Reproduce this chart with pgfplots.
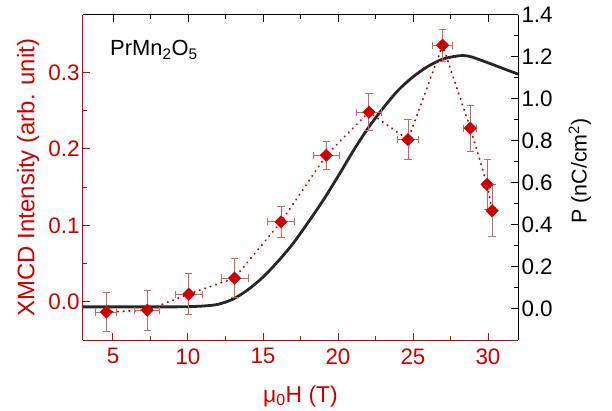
\documentclass[border=0pt]{standalone}
\usepackage{fontspec}
\setmainfont{Liberation Sans}
\usepackage{pgfplots}
\usepackage{pgfplotstable}
\pgfplotsset{compat=1.18}
\definecolor{mainred}{RGB}{204,0,0}
\definecolor{errred}{RGB}{214,96,96}
\pgfplotstableread{
x y ex ey
4.56 -0.0135 0.70 0.025
7.28 -0.011 0.83 0.026
10.05 0.010 0.89 0.027
13.1 0.031 0.90 0.025
16.2 0.1045 0.89 0.020
19.22 0.1915 0.87 0.018
22.06 0.248 0.81 0.024
24.67 0.212 0.71 0.026
26.97 0.3355 0.64 0.021
28.82 0.227 0.44 0.030
29.94 0.1535 0.25 0.033
30.27 0.119 0.20 0.034
}\xmcd
\pgfplotstableread{
x p
3 0.008
6 0.008
9 0.008
10 0.009
11 0.012
12 0.020
13 0.045
14 0.090
15 0.150
16 0.225
17 0.310
18 0.410
19 0.515
20 0.630
21 0.750
22 0.860
23 0.955
24 1.040
25 1.105
26 1.155
27 1.190
28 1.205
28.5 1.206
29 1.198
30 1.172
31 1.145
32 1.118
}\pol
\begin{document}
\begin{tikzpicture}
\pgfplotsset{
  common/.style={
    scale only axis, width=435bp, height=325bp,
    xmin=3, xmax=32,
    xtick={5,10,...,30}, minor x tick num=1,
    minor y tick num=1,
    tick align=inside,
    major tick length=7bp, minor tick length=4bp,
    /pgf/number format/assume math mode=true,
    tick label style={font=\fontsize{22.5}{27}\selectfont},
    yticklabel style={/pgf/number format/.cd, fixed, fixed zerofill, precision=1},
  }
}
% right axis (black), polarization
\begin{axis}[common,
  ymin=-0.15, ymax=1.4,
  axis x line=top, axis y line=right,
  axis line style={-, draw=black, line width=1bp},
  tick style={draw=black, line width=1bp},
  tick align=inside,
  xticklabels={},
  ytick={0,0.2,...,1.4},
  ylabel={P (nC/cm\textsuperscript{2})},
  ylabel style={at={(axis description cs:1.142,0.52)}, anchor=center, font=\fontsize{21.5}{26}\selectfont, color=black},
]
\addplot[black!85, line width=2.8bp, smooth, no marks] table[x=x, y=p] {\pol};
\end{axis}
% left axis (red), XMCD
\begin{axis}[common,
  ymin=-0.05, ymax=0.375,
  axis x line=bottom, axis y line=left,
  axis line style={-, draw=mainred, line width=1bp},
  tick style={draw=mainred, line width=1bp},
  tick align=inside,
  ytick={0,0.1,0.2,0.3},
  tick label style={color=mainred},
  xticklabel style={yshift=-5bp},
  xlabel={μ\textsubscript{0}H (T)},
  xlabel style={at={(axis description cs:0.5,-0.191)}, anchor=base, font=\fontsize{23}{27}\selectfont, color=mainred},
  ylabel={XMCD Intensity (arb. unit)},
  ylabel style={at={(axis description cs:-0.126,0.5)}, anchor=center, font=\fontsize{24}{28}\selectfont, color=mainred},
]
\addplot[mainred, line width=2bp, dash pattern=on 0.4bp off 5.3bp, line cap=round, no marks] table[x=x, y=y] {\xmcd};
\addplot[only marks, mark=square*, mark size=4.4bp,
  mark options={rotate=45, fill=mainred, draw=mainred},
  error bars/.cd, x dir=both, x explicit, y dir=both, y explicit,
  error bar style={errred, line width=1bp},
  error mark options={rotate=90, errred, mark size=3.6bp, line width=1bp}]
  table[x=x, y=y, x error=ex, y error=ey] {\xmcd};
\node[anchor=west, inner sep=0pt, font=\fontsize{22}{26}\selectfont] at (axis description cs:0.062,0.892) {PrMn\textsubscript{2}O\textsubscript{5}};
\end{axis}
\pgfresetboundingbox
\path[use as bounding box] (-83bp,-71bp) rectangle (529bp,340bp);
\end{tikzpicture}
\end{document}
